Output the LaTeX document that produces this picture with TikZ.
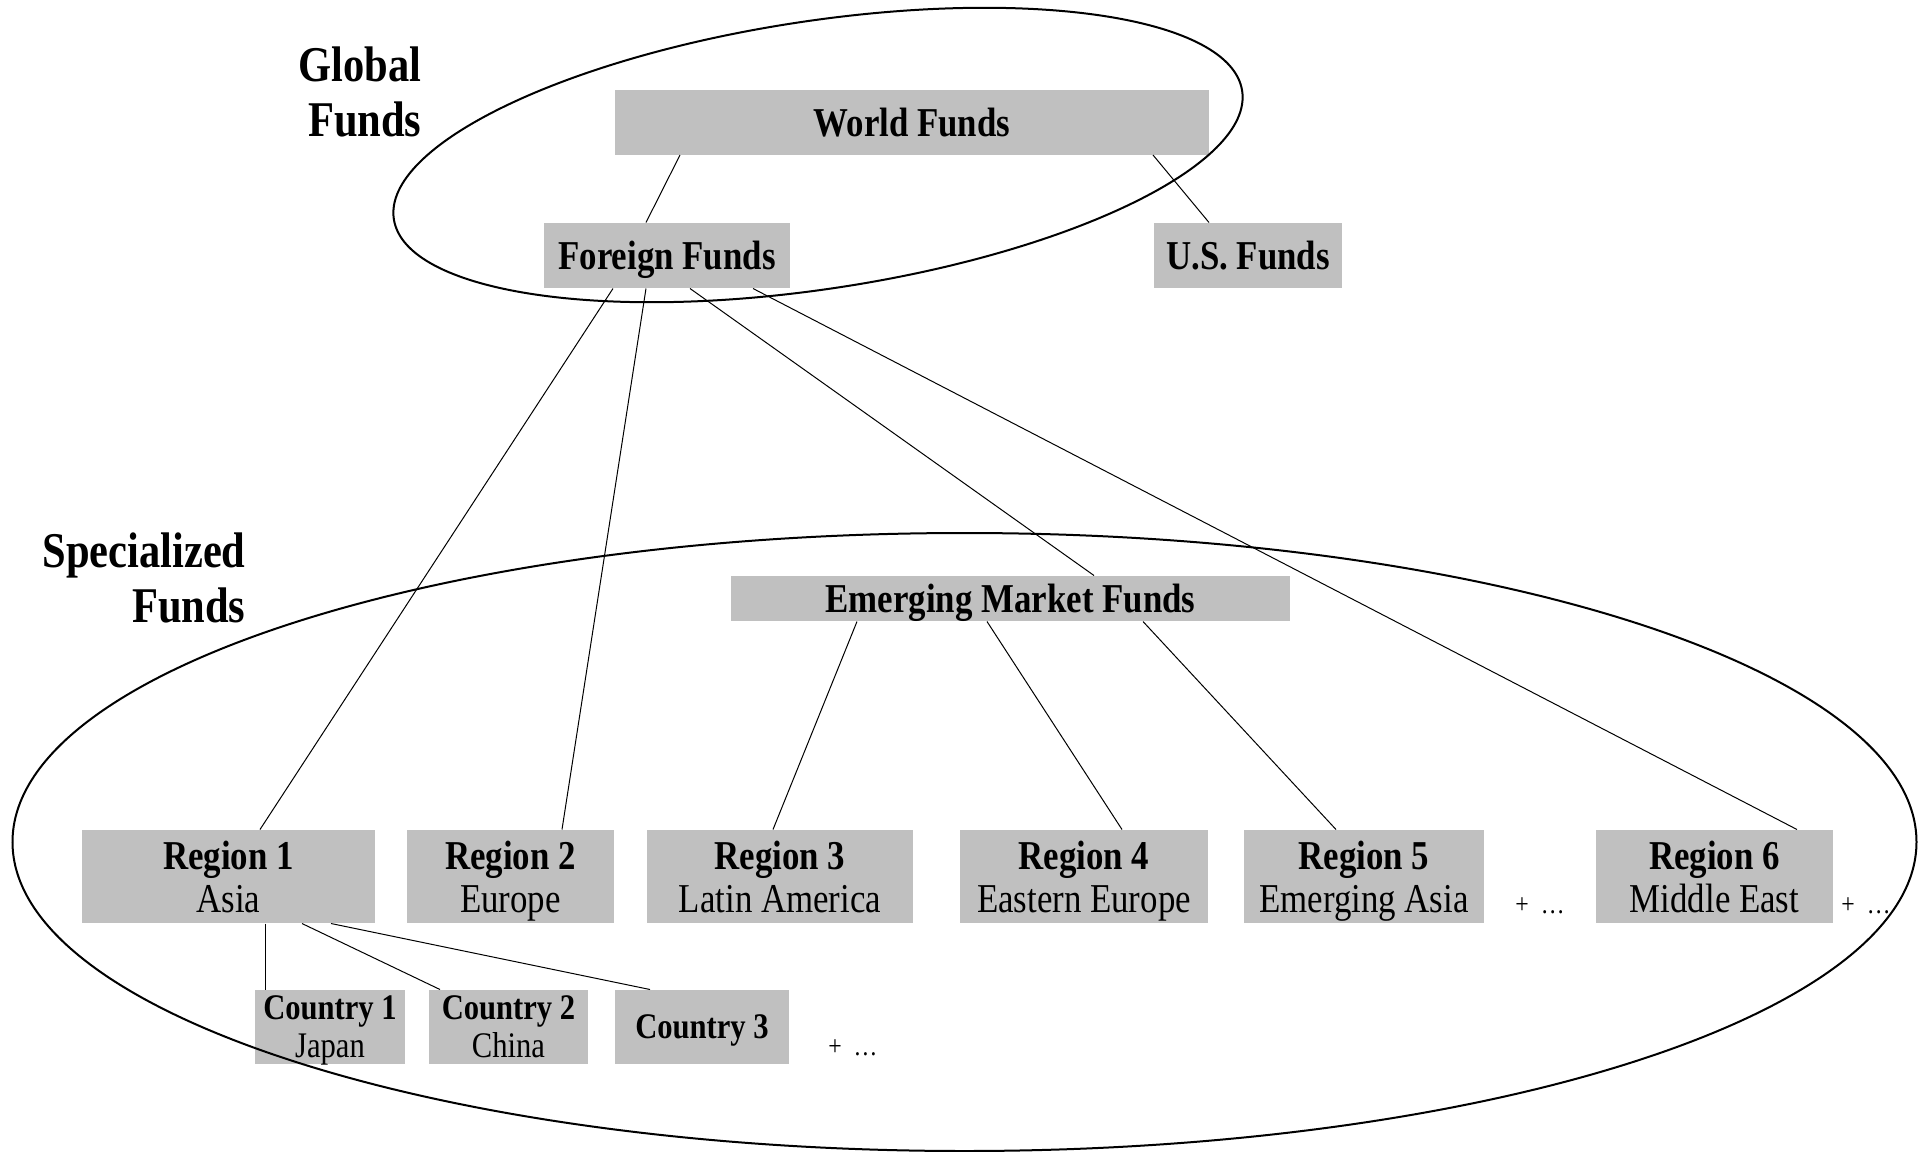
\documentclass[tikz,border=0pt]{standalone}
\usepackage{fontspec}
\setmainfont{Liberation Serif}[FakeStretch=0.85]
\usepackage{tikz}
\usetikzlibrary{positioning,calc}
\definecolor{boxgray}{RGB}{192,192,192}

\begin{document}
\begin{tikzpicture}
[x=0.5pt, y=-0.5pt, line width=0.5pt,
fund/.style={rectangle, fill=boxgray, inner sep=0pt, text depth=0pt, minimum height=32.5pt, font=\fontsize{20.5}{21.5}\selectfont\bfseries},
region/.style={rectangle, fill=boxgray, inner sep=0pt, text depth=0pt, minimum height=46.5pt, align=center, font=\fontsize{20.5}{21.5}\selectfont},
country/.style={rectangle, fill=boxgray, inner sep=0pt, text depth=0pt, minimum height=37pt, align=center, font=\fontsize{18}{19}\selectfont},
group/.style={inner sep=0pt, align=right, font=\fontsize{25}{27.5}\selectfont\bfseries},
more/.style={inner sep=0pt, font=\fontsize{14}{14}\selectfont},
ring/.style={line width=1pt}]

\useasboundingbox (0,0) rectangle (1929,1152);

% group labels
\node[group, anchor=north east] (global) at (422,46) {Global\\Funds};
\node[group, anchor=north east] (special) at (246,532) {Specialized\\Funds};

% top level
\node[fund, minimum width=297pt] (world) at (912,122) {World Funds};
\node[fund, minimum width=123pt] (foreign) at (667,255.5) {Foreign Funds};
\node[fund, minimum width=94pt] (us) at (1248,255.5) {U.S. Funds};
\node[fund, minimum width=279.5pt, minimum height=22.5pt] (emerging) at (1010.5,598.5) {Emerging Market Funds};

% regions
\foreach \n/\x/\w/\t in {1/228.5/146.5/Asia, 2/510.5/103.5/Europe, 3/780/133/Latin America,
  4/1084/124/Eastern Europe, 5/1364/120/Emerging Asia, 6/1714.5/118.5/Middle East} {
  \node[region, minimum width=\w pt] (reg\n) at (\x,876.5) {\textbf{Region \n}\\\t};
}

% countries
\node[country, minimum width=75pt] (cty1) at (330,1027) {\textbf{Country 1}\\Japan};
\node[country, minimum width=79.5pt] (cty2) at (508.5,1027) {\textbf{Country 2}\\China};
\node[country, minimum width=87pt] (cty3) at (702,1027) {\textbf{Country 3}};

\node[more] (more5) at (1540,906) {+\ \ \dots};
\node[more] (more6) at (1866,906) {+\ \ \dots};
\node[more] (morec) at (853,1048) {+\ \ \dots};

% connectors
\draw ([xshift=-116pt]world.south) -- ([xshift=-10.5pt]foreign.north);
\draw ([xshift=120.5pt]world.south) -- ([xshift=-19.5pt]us.north);
\draw ([xshift=-27pt]foreign.south) -- ([xshift=15.75pt]reg1.north);
\draw ([xshift=-10.5pt]foreign.south) -- ([xshift=25.75pt]reg2.north);
\draw ([xshift=11.5pt]foreign.south) -- ([xshift=41.75pt]emerging.north);
\draw ([xshift=43pt]foreign.south) -- ([xshift=41.25pt]reg6.north);
\draw ([xshift=-76.75pt]emerging.south) -- ([xshift=-3.5pt]reg3.north);
\draw ([xshift=-11.75pt]emerging.south) -- ([xshift=19pt]reg4.north);
\draw ([xshift=66.25pt]emerging.south) -- ([xshift=-14pt]reg5.north);
\draw ([xshift=18.25pt]reg1.south) -- ([xshift=-32.5pt]cty1.north);
\draw ([xshift=36.75pt]reg1.south) -- ([xshift=-34.25pt]cty2.north);
\draw ([xshift=51.25pt]reg1.south) -- ([xshift=-26pt]cty3.north);

% groupings
\draw[ring, rotate around={8.6:(818,155)}] (818,155) ellipse [x radius=214.5pt, y radius=67pt];
\draw[ring] (964.5,842) ellipse [x radius=476pt, y radius=154.5pt];
\end{tikzpicture}
\end{document}
